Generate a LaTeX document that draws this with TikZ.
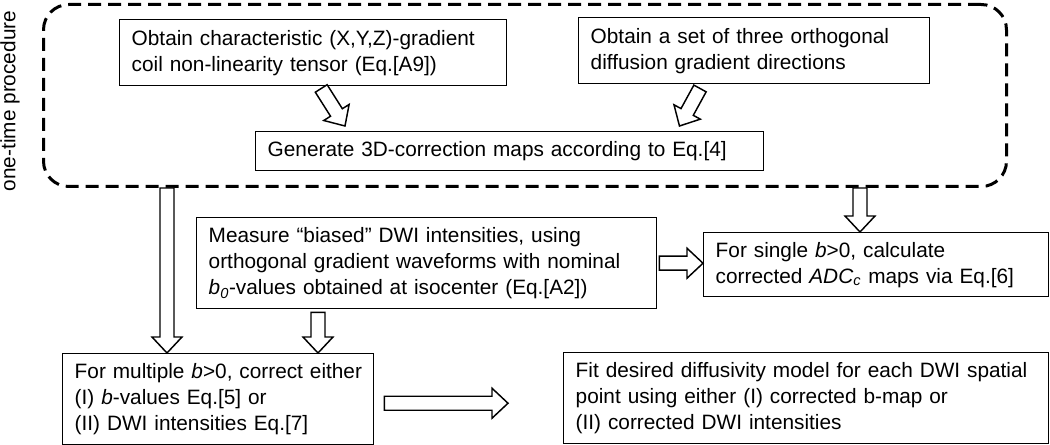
\documentclass[tikz,border=0pt]{standalone}
\usepackage{fontspec}
\setmainfont{Liberation Sans}
\usetikzlibrary{calc}

\begin{document}
\begin{tikzpicture}[x=0.75pt,y=0.75pt,yscale=-1,xscale=1,
  box/.style={draw, line width=1.1pt, anchor=north west, align=left, inner xsep=9pt, inner ysep=0pt, font=\fontsize{15.6}{19.5}\selectfont},
  hollow/.style={draw, line width=1.1pt, fill=white, line join=miter,
    to path={($(\tikztostart)!5.25pt!90:(\tikztotarget)$)
      -- ($(\tikztotarget)!12pt!(\tikztostart)!5.25pt!90:(\tikztotarget)$)
      -- ($(\tikztotarget)!12pt!(\tikztostart)!11.25pt!90:(\tikztotarget)$)
      -- (\tikztotarget)
      -- ($(\tikztotarget)!12pt!(\tikztostart)!11.25pt!-90:(\tikztotarget)$)
      -- ($(\tikztotarget)!12pt!(\tikztostart)!5.25pt!-90:(\tikztotarget)$)
      -- ($(\tikztostart)!5.25pt!-90:(\tikztotarget)$) -- cycle}}]
\useasboundingbox (0,0) rectangle (1050,445);

% one-time part
\node[draw, dash pattern=on 9.75pt off 5.25pt, line width=2.25pt, rounded corners=19pt, anchor=north west, minimum width=722.25pt, minimum height=136.5pt, inner sep=0pt] (onetime) at (42,3) {};
\node[rotate=90, font=\fontsize{15.6}{19.5}\selectfont] (side) at (10,101) {one-time procedure};

\node[box, text width=272.25pt, minimum height=49.5pt] (coil) at (119,19) {Obtain characteristic (X,Y,Z)-gradient\\coil non-linearity tensor (Eq.[A9])};
\node[box, text width=245.25pt, minimum height=49.5pt] (dirs) at (578,17) {Obtain a set of three orthogonal\\diffusion gradient directions};
\node[box, text width=363pt, minimum height=29.25pt] (maps) at (255,131) {Generate 3D-correction maps according to Eq.[4]};

% per-scan part
\node[box, text width=327pt, minimum height=68.25pt] (measure) at (196,217) {Measure “biased” DWI intensities, using\\orthogonal gradient waveforms with nominal\\\textit{b}\textsubscript{\textit{0}}-values obtained at isocenter (Eq.[A2])};
\node[box, text width=240.75pt, minimum height=48pt] (single) at (703,232) {For single \textit{b}>0, calculate\\corrected \textit{ADC}\textsubscript{\textit{c}} maps via Eq.[6]};
\node[box, text width=215.25pt, minimum height=68.25pt] (multi) at (62,353) {\mbox{For multiple \textit{b}>0, correct either}\\(I) \textit{b}-values Eq.[5] or\\(II) DWI intensities Eq.[7]};
\node[box, text width=345.75pt, minimum height=68.25pt] (fit) at (563,352) {Fit desired diffusivity model for each DWI spatial\\point using either (I) corrected b-map or\\(II) corrected DWI intensities};

% arrow ends
\coordinate (c1) at ($(coil.south)+(8,2)$);
\coordinate (c2) at ($(maps.north west)+(90,-5)$);
\coordinate (d1) at ($(dirs.south west)+(122,4)$);
\coordinate (d2) at ($(maps.north east)+(-85,-5)$);
\coordinate (m1) at ($(multi.north west)+(105,0)$);
\coordinate (o1) at (m1 |- onetime.south);
\coordinate (m2) at ($(multi.north west)+(256,0)$);
\coordinate (e0) at ($(measure.south west)+(122,3)$);
\coordinate (s1) at ($(single.north west)+(157,0)$);
\coordinate (o2) at (s1 |- onetime.south);
\coordinate (e1) at ($(measure.east)+(2,0)$);
\coordinate (s2) at (single.west |- e1);
\coordinate (f1) at ($(multi.east)+(10,4)$);
\coordinate (f2) at ($(fit.west)+(-55,5)$);

\path[hollow] (c1) to (c2);
\path[hollow] (d1) to (d2);
\path[hollow] (o1) to (m1);
\path[hollow] (e0) to (m2);
\path[hollow] (o2) to (s1);
\path[hollow] (e1) to (s2);
\path[hollow] (f1) to (f2);
\end{tikzpicture}
\end{document}
